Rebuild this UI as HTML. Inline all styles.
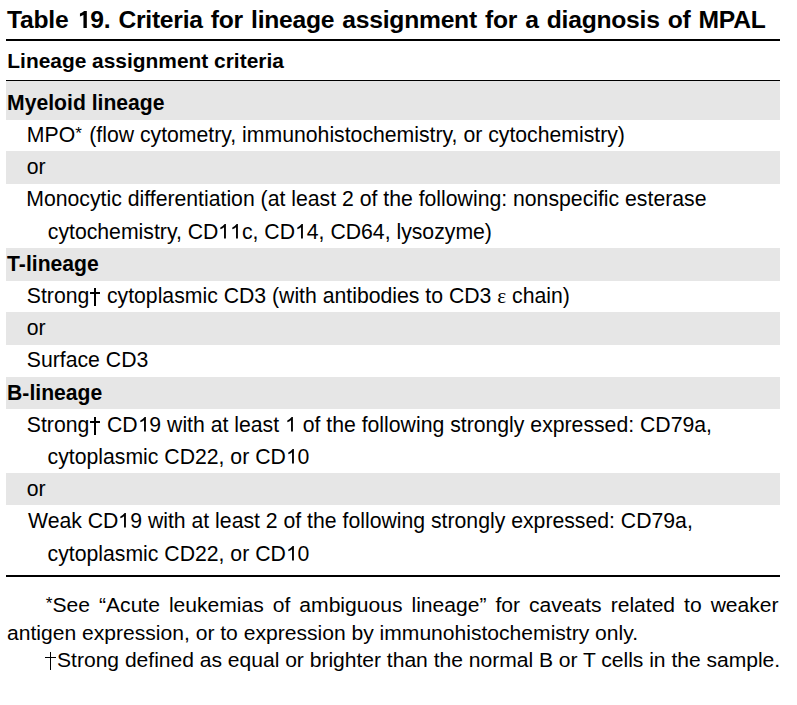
<!DOCTYPE html>
<html><head><meta charset="utf-8"><style>
html,body{margin:0;padding:0;background:#fff;}
body{width:797px;height:705px;position:relative;overflow:hidden;font-family:"Liberation Sans",sans-serif;color:#000;}
.l{position:absolute;white-space:nowrap;line-height:30px;font-size:21.22px;}
.b{font-weight:bold;}
.g{position:absolute;left:6px;width:774px;background:#e6e6e6;}
.r{position:absolute;left:6px;width:774px;background:#000;}
.one{width:0.5562em;height:0.688em;vertical-align:baseline;fill:#000;overflow:visible;}
.eps{font-family:"Liberation Serif",serif;}
.j{text-align:justify;text-align-last:justify;}
.ast{font-size:0.8em;vertical-align:3px;margin-right:1.6px;line-height:0;}
.fn .ast{font-size:0.82em;vertical-align:3.4px;margin-right:0;}
.dg{display:inline-block;position:relative;width:11.7px;height:1px;}
.dg:before{content:"";position:absolute;left:4.8px;width:1.8px;bottom:-3px;height:18px;background:#000;}
.dg:after{content:"";position:absolute;left:0.9px;width:10px;bottom:9.4px;height:1.3px;background:#000;}
.fn .dg:before{left:4.3px;bottom:-2.8px;height:17.6px;}
.fn .dg:after{left:0px;width:10.5px;bottom:9.2px;}
</style></head><body>

<div class="g" style="top:81px;height:39px"></div>
<div class="g" style="top:151px;height:33px"></div>
<div class="g" style="top:248px;height:33px"></div>
<div class="g" style="top:312px;height:33px"></div>
<div class="g" style="top:377px;height:32px"></div>
<div class="g" style="top:473px;height:32px"></div>
<div class="r" style="top:39px;height:2px"></div>
<div class="r" style="top:80px;height:1px"></div>
<div class="r" style="top:575px;height:2px"></div>
<div class="l b" style="top:5px;left:7.1px;font-size:24.67px;letter-spacing:-0.25px;word-spacing:1.5px">Table <svg class="one" viewBox="0 0 1139 1409"><path d="M535 1409H815V0H595Q435 154 245 212V448Q395 404 535 323Z"/></svg>9. Criteria for lineage assignment for a diagnosis of MPAL</div>
<div class="l b" style="top:46px;left:7.3px;font-size:20.92px">Lineage assignment criteria</div>
<div class="l b" style="top:88px;left:7.1px;font-size:21.15px">Myeloid lineage</div>
<div class="l" style="top:120px;left:26.8px">MPO<span class="ast">*</span> (flow cytometry, immunohistochemistry, or cytochemistry)</div>
<div class="l" style="top:152px;left:26.8px">or</div>
<div class="l" style="top:184px;left:26.3px">Monocytic differentiation (at least 2 of the following: nonspecific esterase</div>
<div class="l" style="top:217px;left:47.8px">cytochemistry, CD<svg class="one" viewBox="0 0 1139 1409"><path d="M583 1409H763V0H644Q470 217 223 349V516Q430 438 583 307Z"/></svg><svg class="one" viewBox="0 0 1139 1409"><path d="M583 1409H763V0H644Q470 217 223 349V516Q430 438 583 307Z"/></svg>c, CD<svg class="one" viewBox="0 0 1139 1409"><path d="M583 1409H763V0H644Q470 217 223 349V516Q430 438 583 307Z"/></svg>4, CD64, lysozyme)</div>
<div class="l b" style="top:249px;left:7.1px;font-size:21.15px">T-lineage</div>
<div class="l" style="top:281px;left:26.8px">Strong<span class="dg"></span> cytoplasmic CD3 (with antibodies to CD3 <span class="eps">ε</span> chain)</div>
<div class="l" style="top:313px;left:26.8px">or</div>
<div class="l" style="top:345px;left:26.8px">Surface CD3</div>
<div class="l b" style="top:378px;left:7.1px;font-size:21.15px">B-lineage</div>
<div class="l" style="top:410px;left:26.8px">Strong<span class="dg"></span> CD<svg class="one" viewBox="0 0 1139 1409"><path d="M583 1409H763V0H644Q470 217 223 349V516Q430 438 583 307Z"/></svg>9 with at least <svg class="one" viewBox="0 0 1139 1409"><path d="M583 1409H763V0H644Q470 217 223 349V516Q430 438 583 307Z"/></svg> of the following strongly expressed: CD79a,</div>
<div class="l" style="top:442px;left:47.6px">cytoplasmic CD22, or CD<svg class="one" viewBox="0 0 1139 1409"><path d="M583 1409H763V0H644Q470 217 223 349V516Q430 438 583 307Z"/></svg>0</div>
<div class="l" style="top:474px;left:26.8px">or</div>
<div class="l" style="top:506px;left:28.0px">Weak CD<svg class="one" viewBox="0 0 1139 1409"><path d="M583 1409H763V0H644Q470 217 223 349V516Q430 438 583 307Z"/></svg>9 with at least 2 of the following strongly expressed: CD79a,</div>
<div class="l" style="top:539px;left:47.6px">cytoplasmic CD22, or CD<svg class="one" viewBox="0 0 1139 1409"><path d="M583 1409H763V0H644Q470 217 223 349V516Q430 438 583 307Z"/></svg>0</div>
<div class="l j fn" style="top:590px;left:45.8px;width:732.8px;font-size:21.08px"><span class="ast">*</span>See “Acute leukemias of ambiguous lineage” for caveats related to weaker</div>
<div class="l fn" style="top:618px;left:7px;font-size:21.08px">antigen expression, or to expression by immunohistochemistry only.</div>
<div class="l fn" style="top:645px;left:45.4px;font-size:21.08px;letter-spacing:-0.018px"><span class="dg"></span>Strong defined as equal or brighter than the normal B or T cells in the sample.</div>
</body></html>
